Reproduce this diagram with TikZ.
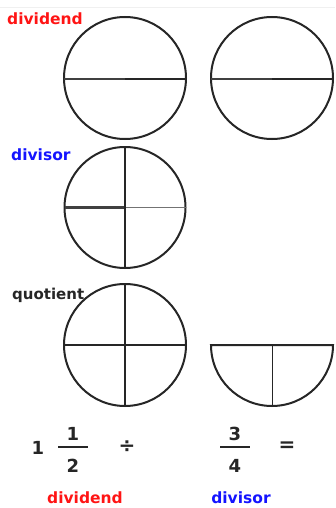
\documentclass[tikz,border=0pt]{standalone}
\usepackage{fontspec}
\setmainfont{DejaVu Sans}
\definecolor{myred}{RGB}{255,20,20}
\definecolor{myblue}{RGB}{20,20,255}
\begin{document}
\begin{tikzpicture}[x=1pt,y=-1pt,
  outline/.style={line width=2pt,black!85},
  inner/.style={line width=1.6pt,black!85},
  thick half/.style={line width=2.8pt,black!75},
  lbl/.style={font=\fontsize{15.5}{15.5}\selectfont\bfseries,inner sep=0pt,anchor=base},
  num/.style={font=\fontsize{18}{18}\selectfont\bfseries,inner sep=0pt,text=black!85},
  fbar/.style={line width=2.2pt,black!85}]
\useasboundingbox (0,0) rectangle (335,508);
\draw[black!6,line width=0.6pt] (0,7) -- (335,7);
% dividend circles
\draw[outline] (125,78) circle (61);
\draw[thick half] (64,79) -- (125,79);
\draw[inner] (125,79) -- (186,79);
\draw[outline] (272,78) circle (61);
\draw[thick half] (211,79) -- (272,79);
\draw[inner] (272,79) -- (333,79);
% divisor circle
\draw[outline] (125,207.5) circle (60.5);
\draw[thick half] (64.5,207.5) -- (125,207.5);
\draw[inner,black!55] (125,207.5) -- (185.5,207.5);
\draw[inner] (125,147) -- (125,268);
% quotient
\draw[outline] (125,345) circle (61);
\draw[inner] (64,345) -- (186,345);
\draw[inner] (125,284) -- (125,406);
\draw[outline] (211,345) arc[start angle=180,end angle=0,radius=61] -- cycle;
\draw[inner] (272.5,345) -- (272.5,406);
% labels
\node[lbl,text=myred,anchor=base west] (t1) at (7,25) {dividend};
\node[lbl,text=myblue,anchor=base west] (t2) at (11,160) {divisor};
\node[lbl,text=black!85,anchor=base west,font=\fontsize{15}{15}\selectfont\bfseries] (t3) at (12,299) {quotient};
% equation
\node[num] (one) at (38,448) {1};
\node[num] (n1) at (73,434) {1};
\draw[fbar] (58,447) -- (88,447);
\node[num] (d1) at (73,466) {2};
\node[num,font=\fontsize{20}{20}\selectfont\bfseries] (div) at (127,447) {÷};
\node[num] (n3) at (235,434) {3};
\draw[fbar] (220,447) -- (250,447);
\node[num] (d3) at (235,466) {4};
\node[num,font=\fontsize{20}{20}\selectfont\bfseries] (eq) at (287,447) {=};
\node[lbl,text=myred] (b1) at (85,503) {dividend};
\node[lbl,text=myblue] (b2) at (241,503) {divisor};
\end{tikzpicture}
\end{document}
